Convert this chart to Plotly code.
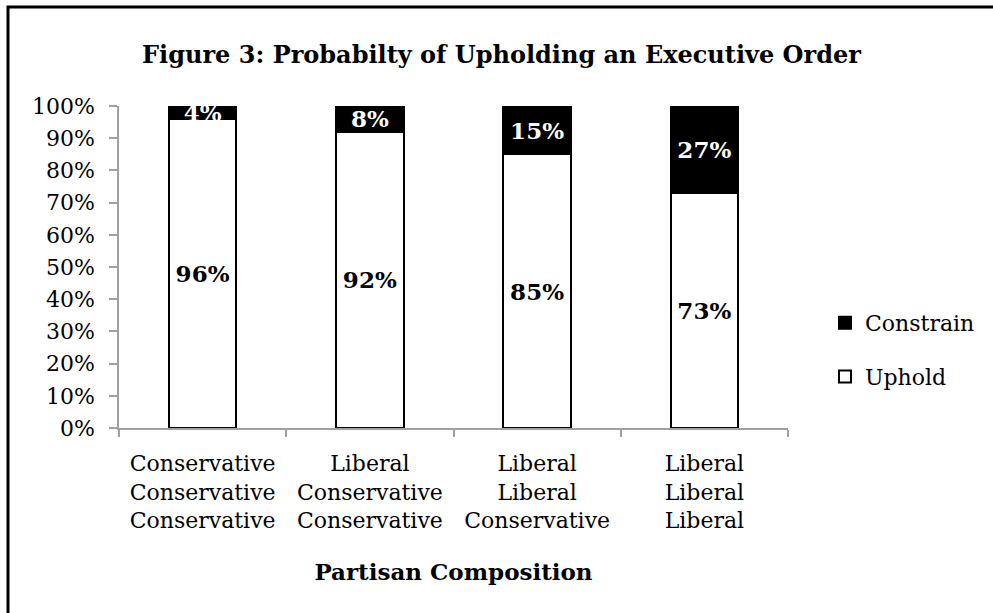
import plotly.graph_objects as go

# ---- data ----
categories = [
    "Conservative<br>Conservative<br>Conservative",
    "Liberal<br>Conservative<br>Conservative",
    "Liberal<br>Liberal<br>Conservative",
    "Liberal<br>Liberal<br>Liberal",
]
uphold = [0.96, 0.92, 0.85, 0.73]
constrain = [0.04, 0.08, 0.15, 0.27]
y_ticks = [0, 0.1, 0.2, 0.3, 0.4, 0.5, 0.6, 0.7, 0.8, 0.9, 1.0]
title_text = "Figure 3: Probabilty of Upholding an Executive Order"
x_title = "Partisan Composition"

FONT = "DejaVu Serif"
W, H = 993, 613
L, R, T, B = 119, 205, 106, 185
pw, ph = W - L - R, H - T - B

fig = go.Figure()
fig.add_trace(go.Bar(
    name="Uphold", x=categories, y=uphold,
    marker=dict(color="white", line=dict(color="black", width=2)),
    texttemplate="<b>%{y:.0%}</b>", textposition="inside", insidetextanchor="middle",
    textangle=0, constraintext="none",
    textfont=dict(family=FONT, size=23, color="black"),
    legendgroup="u", legendrank=2, hoverinfo="skip",
))
fig.add_trace(go.Bar(
    name="Constrain", x=categories, y=constrain,
    marker=dict(color="black", line=dict(color="black", width=2)),
    texttemplate="<b>%{y:.0%}</b>", textposition="inside", insidetextanchor="middle",
    textangle=0, constraintext="none",
    textfont=dict(family=FONT, size=23, color="white"),
    legendgroup="c", legendrank=1, hoverinfo="skip",
))

# outer page border (only top and left edges visible in frame)
fig.add_shape(type="rect", xref="paper", yref="paper",
              x0=(8 - L) / pw, x1=(W + 20 - L) / pw,
              y0=-(H + 20 - (T + ph)) / ph, y1=1 + (T - 7) / ph,
              line=dict(color="black", width=3), fillcolor="rgba(0,0,0,0)", layer="below")

fig.update_layout(
    width=W, height=H,
    margin=dict(l=L, r=R, t=T, b=B, autoexpand=False),
    barmode="stack", bargap=0.595,
    paper_bgcolor="white", plot_bgcolor="white",
    font=dict(family=FONT, size=22, color="black"),
    title=dict(text="<b>" + title_text + "</b>", x=0.505, xref="container",
               y=1 - 55 / H, yref="container", yanchor="middle", xanchor="center",
               font=dict(family=FONT, size=24, color="black")),
    legend=dict(x=(825 - L) / pw, xanchor="left", y=1 - (302 - T) / ph, yanchor="top",
                font=dict(family=FONT, size=22), tracegroupgap=22,
                traceorder="grouped",
                bgcolor="rgba(0,0,0,0)", itemclick=False),
    showlegend=True,
)
fig.update_xaxes(
    showline=True, linecolor="#a0a0a0", linewidth=1.5,
    ticks="outside", tickson="boundaries", ticklen=7, tickcolor="#a0a0a0", tickwidth=1.5,
    tickfont=dict(family=FONT, size=22), showgrid=False,
    ticklabelstandoff=15,
    title=dict(text="<b>" + x_title + "</b>", font=dict(family=FONT, size=23), standoff=32),
)
fig.update_yaxes(
    range=[0, 1], tickvals=y_ticks, tickformat=".0%",
    showline=True, linecolor="#a0a0a0", linewidth=1.5,
    ticks="outside", ticklen=8, tickcolor="#a0a0a0", tickwidth=1.5,
    tickfont=dict(family=FONT, size=22), showgrid=False, zeroline=False,
    ticklabelstandoff=10,
)

fig.write_html("out.html")
